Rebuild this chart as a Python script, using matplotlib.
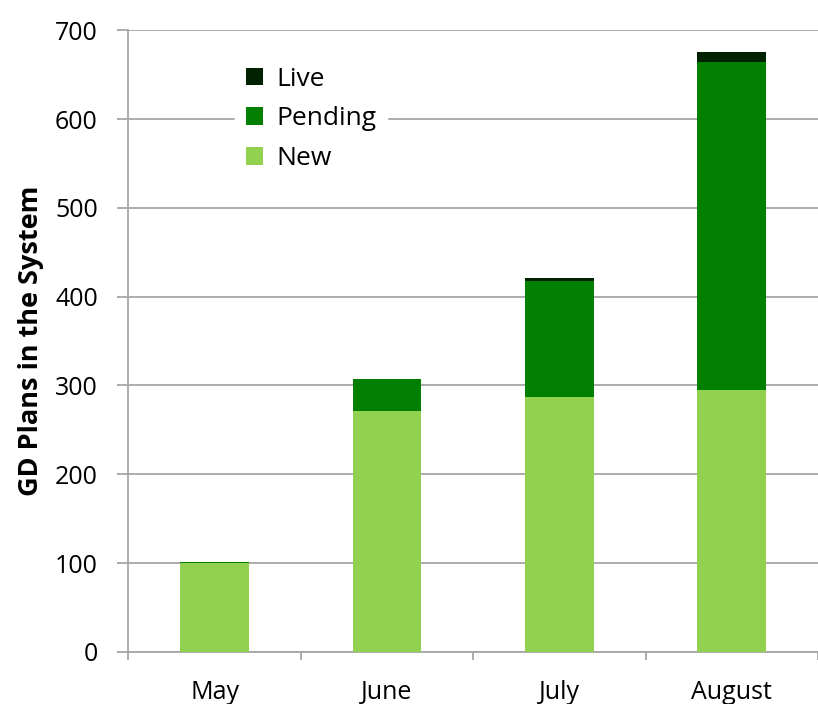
import numpy as np
import matplotlib.pyplot as plt
import matplotlib as mpl

mpl.rcParams.update({
    "font.family": ["Open Sans", "DejaVu Sans"],
    "font.size": 18,
})

# data
months = ["May", "June", "July", "August"]
new_vals = [100, 271, 287, 295]
pending_vals = [1, 36, 131, 369]
live_vals = [0, 0, 3, 12]

col_new = "#92d050"
col_pending = "#007f00"
col_live = "#002200"

fig = plt.figure(figsize=(8.18, 7.04), dpi=100)
ax = fig.add_axes([0.157, 0.074, 0.843, 0.883])

x = np.arange(len(months))
w = 0.4
new_arr = np.array(new_vals)
pend_arr = np.array(pending_vals)
live_arr = np.array(live_vals)

ax.bar(x, new_arr, w, color=col_new, label="New", zorder=3)
ax.bar(x, pend_arr, w, bottom=new_arr, color=col_pending, label="Pending", zorder=3)
ax.bar(x, live_arr, w, bottom=new_arr + pend_arr, color=col_live, label="Live", zorder=3)

ax.set_xlim(-0.5, 3.5)
ax.set_ylim(0, 700)
ax.set_yticks(range(0, 701, 100))
ax.yaxis.grid(True, color="#a6a6a6", linewidth=1.3, zorder=0)
ax.set_axisbelow(True)

# category ticks between bars
ax.set_xticks(x)
ax.set_xticklabels(months)
ax.set_xticks(np.arange(-0.5, 3.6, 1.0), minor=True)
ax.tick_params(axis="x", which="major", length=0, pad=20)
ax.tick_params(axis="x", which="minor", length=6, color="#a6a6a6", width=1.3)
ax.tick_params(axis="y", length=8, color="#a6a6a6", width=1.3, pad=14)

for s in ["top", "right"]:
    ax.spines[s].set_visible(False)
for s in ["left", "bottom"]:
    ax.spines[s].set_color("#a6a6a6")
    ax.spines[s].set_linewidth(1.3)

ax.set_ylabel("GD Plans in the System", fontsize=19.5, fontweight="bold", labelpad=8)

handles, labels = ax.get_legend_handles_labels()
leg = ax.legend(handles[::-1], labels[::-1], loc="upper left",
                bbox_to_anchor=(0.155, 0.958), borderaxespad=0,
                frameon=True, fancybox=False,
                edgecolor="white", framealpha=1, handlelength=0.65,
                handleheight=0.65, handletextpad=0.5, labelspacing=0.55,
                fontsize=19)

fig.savefig("out.png", dpi=100)
